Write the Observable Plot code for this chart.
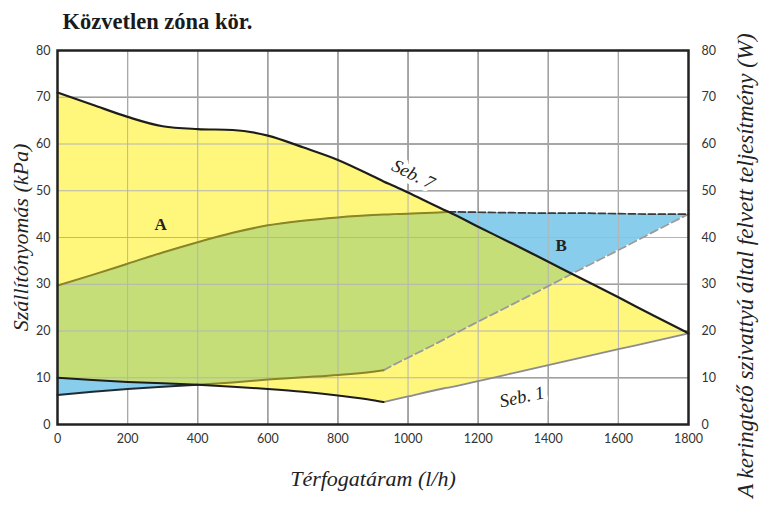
<!DOCTYPE html>
<html>
<head>
<meta charset="utf-8">
<script src="https://cdn.jsdelivr.net/npm/d3@7"></script>
<script src="https://cdn.jsdelivr.net/npm/@observablehq/plot@0.6"></script>
<style>
  html, body { margin: 0; padding: 0; background: #fff; }
  #chart { width: 759px; height: 506px; }
</style>
</head>
<body>
<div id="chart"></div>
<script>
// ---- data ----
const flow   = [0, 100, 200, 300, 400, 500, 600, 700, 800, 900, 930, 960, 1000, 1100, 1115, 1200, 1300, 1400, 1500, 1600, 1700, 1800];
// pressure, speed 7 (upper pump curve), kPa
const seb7   = [71, 68.4, 65.8, 63.8, 63.2, 63.0, 61.8, 59.3, 56.6, 53.1, 52.0, 51.0, 49.6, 46.0, 45.5, 42.3, 38.6, 34.8, 31.0, 27.2, 23.3, 19.5];
// pressure, speed 1 (lower limit), kPa
const seb1   = [10, 9.5, 9.1, 8.8, 8.5, 8.1, 7.6, 7.0, 6.2, 5.2, 4.8, 5.3, 6.0, 7.7, 7.9, 9.3, 11.0, 12.7, 14.4, 16.1, 17.8, 19.5];
// absorbed power, upper limit, W
const powMax = [29.7, 32.0, 34.4, 36.8, 39.0, 41.0, 42.6, 43.6, 44.3, 44.8, 44.9, 45.0, 45.1, 45.4, 45.5, 45.4, 45.3, 45.2, 45.2, 45.1, 45.0, 45.0];
// absorbed power, lower limit, W
const powMin = [6.3, 7.0, 7.6, 8.1, 8.5, 9.0, 9.6, 10.1, 10.6, 11.3, 11.6, 12.8, 14.3, 18.1, 18.7, 22.0, 25.8, 29.6, 33.5, 37.3, 41.2, 45.0];

const xTicks = [0, 200, 400, 600, 800, 1000, 1200, 1400, 1600, 1800];
const yTicks = [0, 10, 20, 30, 40, 50, 60, 70, 80];

const titleText = "Közvetlen zóna kör.";
const yLabel = "Szállítónyomás (kPa)";
const xLabel = "Térfogatáram (l/h)";
const y2Label = "A keringtető szivattyú által felvett teljesítmény (W)";
const regionLabels = [{x: 294, y: 42.8, t: "A"}, {x: 1437, y: 38.2, t: "B"}];
const curveLabels = [{x: 1015, y: 53.5, t: "Seb. 7", r: 26}, {x: 1325, y: 5.9, t: "Seb. 1", r: -12}];

// ---- build ----
const rows = flow.map((x, i) => ({x, seb7: seb7[i], seb1: seb1[i], pmax: powMax[i], pmin: powMin[i]}));
const i400 = flow.indexOf(400), i930 = flow.indexOf(930), i1115 = flow.indexOf(1115);
const C = "monotone-x";
const serif = "Liberation Serif, DejaVu Serif, serif";
const fmt = d => String(d);

const plot = Plot.plot({
  width: 759,
  height: 506,
  marginTop: 50,
  marginBottom: 82,
  marginLeft: 57,
  marginRight: 71,
  style: {fontFamily: "Lato, sans-serif", fontSize: "12.5px", color: "#333", background: "#fff"},
  x: {domain: [0, 1800]},
  y: {domain: [0, 80]},
  marks: [
    // grid under fills
    Plot.ruleX(xTicks, {stroke: "#333", strokeWidth: 1}),
    Plot.ruleY(yTicks, {stroke: "#333", strokeWidth: 1}),
    // pressure region (yellow)
    Plot.areaY(rows, {x: "x", y1: "seb1", y2: "seb7", fill: "#FFF67C", curve: C}),
    // power region (blue)
    Plot.areaY(rows, {x: "x", y1: "pmin", y2: "pmax", fill: "#88CEEC", curve: C}),
    // overlap (green) — clipped to pressure region afterwards
    Plot.areaY(rows, {x: "x", y1: "pmin", y2: "pmax", fill: "#C5DE78", curve: C}),
    // grid over fills (multiply)
    Plot.ruleX(xTicks, {stroke: "#b4b4b4", strokeWidth: 1, ariaLabel: "gridtop"}),
    Plot.ruleY(yTicks, {stroke: "#b4b4b4", strokeWidth: 1, ariaLabel: "gridtop"}),
    // power curves
    Plot.line(rows.slice(i930), {x: "x", y: "pmin", stroke: "#9a9a9a", strokeWidth: 1.8, strokeDasharray: "8,4", curve: C}),
    Plot.line(rows.slice(i400, i930 + 1), {x: "x", y: "pmin", stroke: "#8a8526", strokeWidth: 2, curve: C}),
    Plot.line(rows.slice(0, i400 + 1), {x: "x", y: "pmin", stroke: "#1c2a33", strokeWidth: 2, curve: C}),
    Plot.line(rows.slice(i1115), {x: "x", y: "pmax", stroke: "#3a3a3a", strokeWidth: 1.7, strokeDasharray: "7,3", curve: C}),
    Plot.line(rows.slice(0, i1115 + 1), {x: "x", y: "pmax", stroke: "#8a8526", strokeWidth: 2, curve: C}),
    // pressure curves
    Plot.line(rows.slice(i930), {x: "x", y: "seb1", stroke: "#8c8c8c", strokeWidth: 1.8, curve: C}),
    Plot.line(rows.slice(0, i930 + 1), {x: "x", y: "seb1", stroke: "#1d1d1b", strokeWidth: 2, curve: C}),
    Plot.line(rows, {x: "x", y: "seb7", stroke: "#1d1d1b", strokeWidth: 2.2, curve: C}),
    // frame
    Plot.frame({stroke: "#222", strokeWidth: 2.5}),
    // axes
    Plot.axisY(yTicks, {anchor: "left", tickSize: 0, tickPadding: 7, label: null, tickFormat: fmt}),
    Plot.axisY(yTicks, {anchor: "right", tickSize: 0, tickPadding: 13, label: null, tickFormat: fmt}),
    Plot.axisX(xTicks, {anchor: "bottom", tickSize: 0, tickPadding: 10, label: null, tickFormat: fmt}),
    // curve labels with white background
    Plot.text(curveLabels, {x: "x", y: "y", text: "t", rotate: "r", fontFamily: serif, fontStyle: "italic", fontSize: 18.5,
      fill: "#222", stroke: "white", strokeWidth: 9, paintOrder: "stroke"}),
    // region labels
    Plot.text(regionLabels, {x: "x", y: "y", text: "t", fontFamily: serif, fontWeight: "bold", fontSize: 17, fill: "#222"}),
    // axis titles
    Plot.text([yLabel], {frameAnchor: "left", dx: -37, rotate: -90, textAnchor: "middle", lineAnchor: "middle",
      fontFamily: serif, fontStyle: "italic", fontSize: 22, fill: "#222"}),
    Plot.text([xLabel], {frameAnchor: "bottom", dy: 54, textAnchor: "middle", lineAnchor: "middle",
      fontFamily: serif, fontStyle: "italic", fontSize: 22, fill: "#222"}),
    Plot.text([y2Label], {frameAnchor: "right", dx: 57, dy: 28, rotate: -90, textAnchor: "middle", lineAnchor: "middle",
      fontFamily: serif, fontStyle: "italic", fontSize: 23, fill: "#222"}),
    // title
    Plot.text([titleText], {frameAnchor: "top-left", dx: 5, dy: -22, textAnchor: "start", lineAnchor: "bottom",
      fontFamily: serif, fontWeight: "bold", fontSize: 22.5, fill: "#1a1a1a"})
  ]
});

// clip the green overlap to the pressure region
(function () {
  const svg = d3.select(plot);
  const areas = plot.querySelectorAll('g[aria-label="area"]');
  if (areas.length >= 3) {
    const yellowPath = areas[0].querySelector("path");
    const defs = svg.insert("defs", ":first-child");
    const cp = defs.append("clipPath").attr("id", "pressure-clip");
    const p = cp.append("path").attr("d", yellowPath.getAttribute("d"));
    const t = areas[0].getAttribute("transform") || yellowPath.getAttribute("transform");
    if (t) p.attr("transform", t);
    areas[2].setAttribute("clip-path", "url(#pressure-clip)");
  }
  plot.querySelectorAll('g[aria-label="gridtop"]').forEach(g => g.style.mixBlendMode = "multiply");
})();

document.getElementById("chart").appendChild(plot);
</script>
</body>
</html>
